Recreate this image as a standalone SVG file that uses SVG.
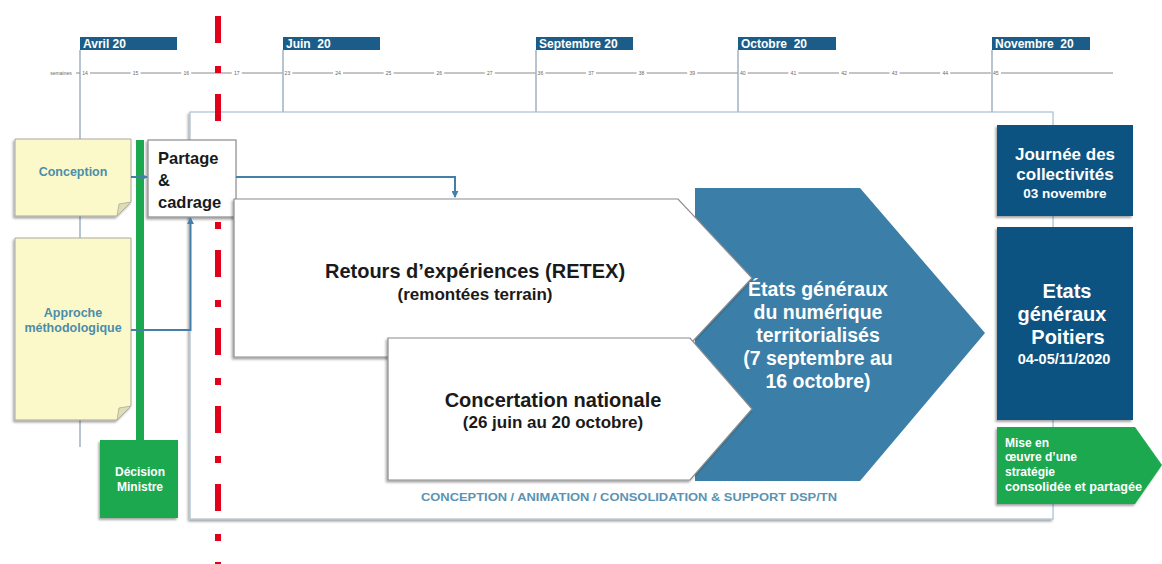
<svg xmlns="http://www.w3.org/2000/svg" width="1162" height="564" viewBox="0 0 1162 564">
<style>
  .month { fill:#1b5d88; }
  .mtxt { font-family:"Liberation Sans", Arial, sans-serif; font-weight:bold; font-size:12px; fill:#ffffff; }
  .mline { stroke:#8ea6b8; stroke-width:1.3; fill:none; }
  .tick { font-family:"Liberation Sans", Arial, sans-serif; font-size:5px; fill:#666; text-anchor:middle; }
  .tl { stroke:#8a8a8a; stroke-width:1; fill:none; }
  .note { fill:#fbf9c9; stroke:#a9a9a0; stroke-width:1; }
  .fold { fill:#deddb4; stroke:#a9a9a0; stroke-width:0.8; }
  .notetxt { font-family:"Liberation Sans", Arial, sans-serif; font-weight:bold; font-size:12.5px; fill:#4b8daa; text-anchor:middle; }
  .white { fill:#ffffff; stroke:#8c8c8c; stroke-width:1.2; }
  .big { font-family:"Liberation Sans", Arial, sans-serif; font-weight:bold; font-size:20px; fill:#1a1a1a; text-anchor:middle; }
  .sub { font-family:"Liberation Sans", Arial, sans-serif; font-weight:bold; font-size:17px; fill:#1a1a1a; text-anchor:middle; }
  .navy { fill:#0f5382; }
  .green { fill:#1ca84f; }
  .wtxt { font-family:"Liberation Sans", Arial, sans-serif; font-weight:bold; fill:#ffffff; text-anchor:middle; }
  .conn { stroke:#437fa9; stroke-width:2; fill:none; }
</style>
<defs>
  <filter id="sh" x="-10%" y="-10%" width="125%" height="130%">
    <feDropShadow dx="-1.5" dy="2" stdDeviation="1.2" flood-color="#000" flood-opacity="0.35"/>
  </filter>
  <marker id="arr" viewBox="0 0 8 8" refX="7" refY="4" markerWidth="7" markerHeight="7" markerUnits="userSpaceOnUse" orient="auto">
    <path d="M0,0 L8,4 L0,8 z" fill="#437fa9"/>
  </marker>
</defs>

<rect width="1162" height="564" fill="#ffffff"/>

<!-- Timeline -->
<g id="timeline">
  <line class="mline" x1="80" y1="50" x2="80" y2="447"/>
  <line class="mline" x1="283" y1="50" x2="283" y2="112"/>
  <line class="mline" x1="536" y1="50" x2="536" y2="112"/>
  <line class="mline" x1="738" y1="50" x2="738" y2="112"/>
  <line class="mline" x1="992" y1="50" x2="992" y2="112"/>
  <line class="tl" x1="90" y1="73" x2="991" y2="73" stroke-dasharray="40.6 10"/>
  <line class="tl" x1="1001" y1="73" x2="1113" y2="73"/>
  <line class="tl" x1="76" y1="73" x2="80" y2="73"/>
  <text class="tick" x="61" y="74.7">semaines</text>
  <text class="tick" x="85" y="74.7">14</text>
  <text class="tick" x="135.6" y="74.7">15</text>
  <text class="tick" x="186.2" y="74.7">16</text>
  <text class="tick" x="236.8" y="74.7">17</text>
  <text class="tick" x="287.4" y="74.7">23</text>
  <text class="tick" x="338" y="74.7">24</text>
  <text class="tick" x="388.6" y="74.7">25</text>
  <text class="tick" x="439.2" y="74.7">26</text>
  <text class="tick" x="489.8" y="74.7">27</text>
  <text class="tick" x="540.4" y="74.7">36</text>
  <text class="tick" x="591" y="74.7">37</text>
  <text class="tick" x="641.6" y="74.7">38</text>
  <text class="tick" x="692.2" y="74.7">39</text>
  <text class="tick" x="742.8" y="74.7">40</text>
  <text class="tick" x="793.4" y="74.7">41</text>
  <text class="tick" x="844" y="74.7">42</text>
  <text class="tick" x="894.6" y="74.7">43</text>
  <text class="tick" x="945.2" y="74.7">44</text>
  <text class="tick" x="995.8" y="74.7">45</text>
  <rect class="month" x="80" y="37" width="97" height="13"/>
  <text class="mtxt" x="83" y="48">Avril 20</text>
  <rect class="month" x="283" y="37" width="97" height="13"/>
  <text class="mtxt" x="286" y="48" xml:space="preserve">Juin  20</text>
  <rect class="month" x="536" y="37" width="97" height="13"/>
  <text class="mtxt" x="539" y="48">Septembre 20</text>
  <rect class="month" x="738" y="37" width="98" height="13"/>
  <text class="mtxt" x="741" y="48" xml:space="preserve">Octobre  20</text>
  <rect class="month" x="992" y="37" width="98" height="13"/>
  <text class="mtxt" x="995" y="48" xml:space="preserve">Novembre  20</text>
</g>

<!-- Main frame -->
<g id="frame">
  <rect x="190" y="112" width="863" height="407" fill="#ffffff" stroke="#a9c0d2" stroke-width="1.2" filter="url(#sh)"/>
  <text x="629" y="501" text-anchor="middle" font-family="'Liberation Sans', Arial, sans-serif" font-weight="bold" font-size="11px" fill="#5b93b3" textLength="416" lengthAdjust="spacingAndGlyphs">CONCEPTION / ANIMATION / CONSOLIDATION &amp; SUPPORT DSP/TN</text>
</g>

<!-- Left nodes -->
<g id="conception">
  <path class="note" d="M15,139 H131 V202 L117,216 H15 Z" filter="url(#sh)"/>
  <path class="fold" d="M131,202 L117,216 L119,204 Z"/>
  <text class="notetxt" x="73" y="176">Conception</text>
</g>
<g id="approche">
  <path class="note" d="M15,238 H131 V406 L117,420 H15 Z" filter="url(#sh)"/>
  <path class="fold" d="M131,406 L117,420 L119,408 Z"/>
  <text class="notetxt" x="73" y="317">Approche</text>
  <text class="notetxt" x="73" y="332">méthodologique</text>
</g>
<g id="decision">
  <rect class="green" x="136" y="140" width="8" height="300"/>
  <rect class="green" x="100" y="440" width="78" height="78" filter="url(#sh)"/>
  <text class="wtxt" x="140" y="476" font-size="12px">Décision</text>
  <text class="wtxt" x="140" y="491" font-size="12px">Ministre</text>
</g>

<!-- Red dash-dot separator -->
<line x1="218" y1="16" x2="218" y2="564" stroke="#e3001b" stroke-width="6" stroke-dasharray="27 23 7 21"/>

<g id="partage">
  <rect x="148" y="140" width="88" height="77" fill="#ffffff" stroke="#8c8c8c" stroke-width="1.2" filter="url(#sh)"/>
  <text x="158" y="164" font-family="'Liberation Sans', Arial, sans-serif" font-weight="bold" font-size="16.5px" fill="#1a1a1a">Partage</text>
  <text x="158" y="186" font-family="'Liberation Sans', Arial, sans-serif" font-weight="bold" font-size="16.5px" fill="#1a1a1a">&amp;</text>
  <text x="158" y="208" font-family="'Liberation Sans', Arial, sans-serif" font-weight="bold" font-size="16.5px" fill="#1a1a1a">cadrage</text>
</g>

<!-- Central phases -->
<g id="etats-territorialises">
  <polygon points="695,188 860,188 985,333 860,481 695,481" fill="#3b7ea7"/>
  <text class="wtxt" x="818" y="296" font-size="19.5px" fill="#eaf2f8">États généraux</text>
  <text class="wtxt" x="818" y="319" font-size="19.5px" fill="#eaf2f8">du numérique</text>
  <text class="wtxt" x="818" y="342" font-size="19.5px" fill="#eaf2f8">territorialisés</text>
  <text class="wtxt" x="818" y="365" font-size="19.5px" fill="#eaf2f8">(7 septembre au</text>
  <text class="wtxt" x="818" y="388" font-size="19.5px" fill="#eaf2f8">16 octobre)</text>
</g>
<g id="retex">
  <polygon class="white" points="234,199 678,199 752,278 678,357 234,357" filter="url(#sh)"/>
  <text class="big" x="475" y="278">Retours d’expériences (RETEX)</text>
  <text class="sub" x="475" y="300">(remontées terrain)</text>
</g>
<g id="concertation">
  <polygon class="white" points="388,338 690,338 752,409 690,480 388,480" filter="url(#sh)"/>
  <text class="big" x="553" y="407">Concertation nationale</text>
  <text class="sub" x="553" y="428">(26 juin au 20 octobre)</text>
</g>

<!-- Right column -->
<g id="journee">
  <rect class="navy" x="997" y="125" width="136" height="91" filter="url(#sh)"/>
  <text class="wtxt" x="1065" y="160" font-size="17px">Journée des</text>
  <text class="wtxt" x="1065" y="180" font-size="17px">collectivités</text>
  <text class="wtxt" x="1065" y="198" font-size="13.5px">03 novembre</text>
</g>
<g id="etats-poitiers">
  <rect class="navy" x="997" y="227" width="136" height="193" filter="url(#sh)"/>
  <text class="wtxt" x="1067" y="298" font-size="20px">Etats</text>
  <text class="wtxt" x="1062" y="321" font-size="20px">généraux</text>
  <text class="wtxt" x="1068" y="344" font-size="20px">Poitiers</text>
  <text class="wtxt" x="1064" y="364" font-size="14.5px">04-05/11/2020</text>
</g>
<g id="mise-en-oeuvre">
  <polygon class="green" points="997,427 1135,427 1162,465 1135,504 997,504" filter="url(#sh)"/>
  <g font-family="'Liberation Sans', Arial, sans-serif" font-weight="bold" font-size="12px" fill="#ffffff">
    <text x="1005" y="447">Mise en</text>
    <text x="1005" y="461">œuvre d’une</text>
    <text x="1005" y="476">stratégie</text>
    <text x="1005" y="491" textLength="137" lengthAdjust="spacingAndGlyphs">consolidée et partagée</text>
  </g>
</g>

<!-- Connectors -->
<g id="connectors">
  <path class="conn" d="M131,177 H147" marker-end="url(#arr)"/>
  <path class="conn" d="M131,330 H190.5 V218" marker-end="url(#arr)"/>
  <path class="conn" d="M236,177 H455 V197" marker-end="url(#arr)"/>
</g>
</svg>
